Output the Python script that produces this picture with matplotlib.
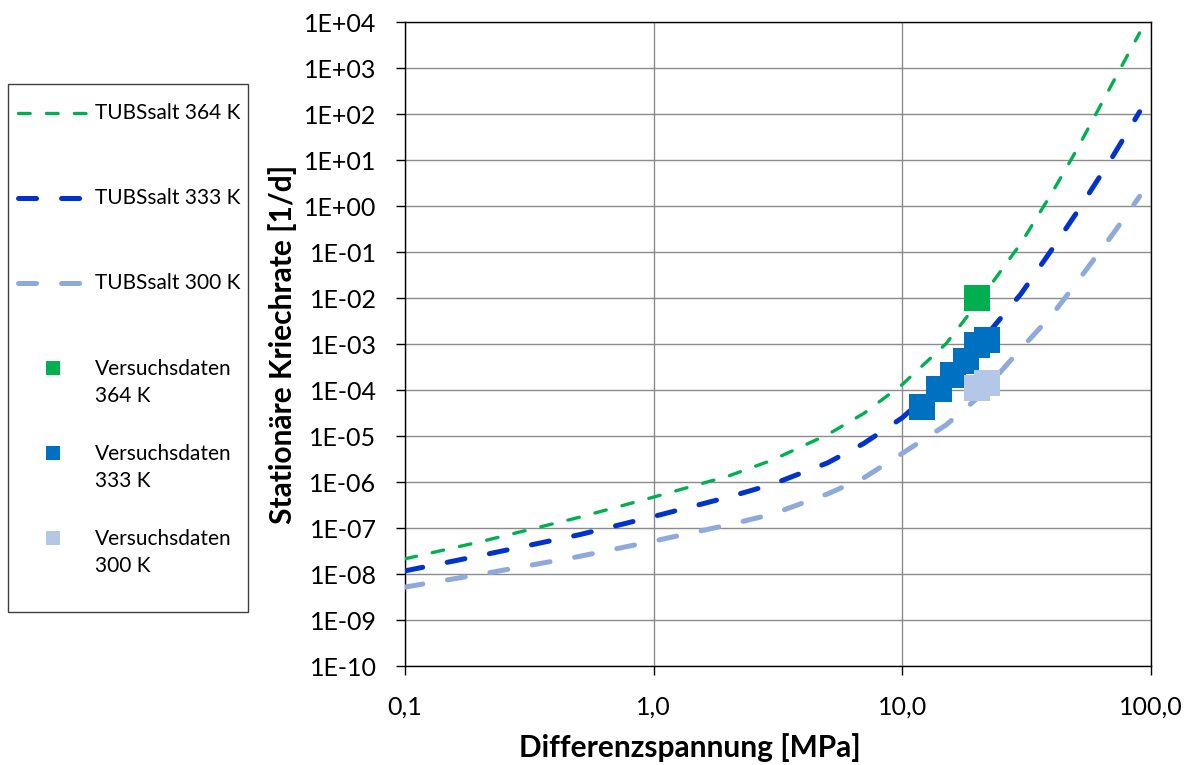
import numpy as np
import matplotlib
matplotlib.use("Agg")
import matplotlib.pyplot as plt
from matplotlib.lines import Line2D
from matplotlib.patches import Rectangle
from matplotlib.ticker import FixedLocator, FuncFormatter, NullLocator

plt.rcParams["font.family"] = ["Lato", "DejaVu Sans"]
plt.rcParams["lines.scale_dashes"] = False

# Model curves, x in MPa, y in 1/d
SIGMA = [0.1, 0.2, 0.5, 1, 2, 3, 5, 7, 10, 15, 20, 30, 40, 50, 70, 90]
RATE_364 = [2.14e-8, 5.0e-8, 1.7e-7, 4.7e-7, 1.35e-6, 3.0e-6, 1.07e-5, 3.1e-5, 1.32e-4,
            1.02e-3, 7.6e-3, 0.155, 1.95, 15.8, 468, 5800]
RATE_333 = [1.17e-8, 2.5e-8, 7.1e-8, 1.78e-7, 4.7e-7, 8.9e-7, 2.6e-6, 6.9e-6, 2.5e-5,
            1.78e-4, 8.9e-4, 1.23e-2, 0.115, 0.69, 11.7, 112]
RATE_300 = [5.2e-9, 9.8e-9, 2.4e-8, 5.2e-8, 1.17e-7, 2.0e-7, 5.5e-7, 1.23e-6, 4.2e-6,
            1.74e-5, 6.6e-5, 7.9e-4, 4.3e-3, 2.1e-2, 0.24, 1.62]

# Test data
TEST_364_X = [20]
TEST_364_Y = [1.0e-2]
TEST_333_X = [12, 14, 16, 18, 20, 22]
TEST_333_Y = [4.2e-5, 1.03e-4, 2.1e-4, 4.2e-4, 9.3e-4, 1.2e-3]
TEST_300_X = [20, 22]
TEST_300_Y = [1.1e-4, 1.4e-4]

X_TICKS = [0.1, 1, 10, 100]
X_TICK_LABELS = ["0,1", "1,0", "10,0", "100,0"]
Y_EXPONENTS = list(range(-10, 5))

GREEN = "#00B050"
BLUE = "#0033CC"
LIGHT = "#8EA9DB"
M_GREEN = "#00B050"
M_BLUE = "#0070C0"
M_LIGHT = "#B4C7E7"

W, H = 1193, 765
fig = plt.figure(figsize=(W / 100, H / 100), dpi=100)
ax = fig.add_axes([405 / W, 1 - 666 / H, (1151 - 405) / W, (666 - 22) / H])

dash_thin = (0, (8.4, 11.7))
dash_thick = (0, (13, 18))

ax.plot(SIGMA, RATE_364, color=GREEN, lw=2.4, ls=dash_thin, dash_capstyle="round", zorder=3)
ax.plot(SIGMA, RATE_333, color=BLUE, lw=3.6, ls=dash_thick, dash_capstyle="round", zorder=3)
ax.plot(SIGMA, RATE_300, color=LIGHT, lw=3.6, ls=dash_thick, dash_capstyle="round", zorder=3)

ax.plot(TEST_364_X, TEST_364_Y, ls="none", marker="s", ms=19, mew=0, color=M_GREEN, zorder=5)
ax.plot(TEST_333_X, TEST_333_Y, ls="none", marker="s", ms=19, mew=0, color=M_BLUE, zorder=5)
ax.plot(TEST_300_X, TEST_300_Y, ls="none", marker="s", ms=19, mew=0, color=M_LIGHT, zorder=6)

ax.set_xscale("log")
ax.set_yscale("log")
ax.set_xlim(0.1, 100)
ax.set_ylim(1e-10, 1e4)

ax.xaxis.set_major_locator(FixedLocator(X_TICKS))
ax.xaxis.set_major_formatter(FuncFormatter(
    lambda v, p: X_TICK_LABELS[int(np.argmin([abs(np.log10(t) - np.log10(v)) for t in X_TICKS]))]))
ax.xaxis.set_minor_locator(NullLocator())
ax.yaxis.set_major_locator(FixedLocator([10.0 ** e for e in Y_EXPONENTS]))
ax.yaxis.set_major_formatter(FuncFormatter(lambda v, p: f"1E{int(round(np.log10(v))):+03d}"))
ax.yaxis.set_minor_locator(NullLocator())

ax.grid(True, which="major", color="#8c8c8c", lw=1.0)
ax.set_axisbelow(True)
for s in ax.spines.values():
    s.set_color("black")
    s.set_linewidth(1.0)
ax.tick_params(axis="both", direction="out", length=6.5, width=1.0, color="black", labelsize=18)
ax.tick_params(axis="x", pad=15)
ax.tick_params(axis="y", pad=14)

ax.set_xlabel("Differenzspannung [MPa]", fontsize=21.5, fontweight="bold")
ax.xaxis.set_label_coords((690 - 405) / 746, (666 - 733) / 644)
ax.set_ylabel("Stationäre Kriechrate [1/d]", fontsize=21.5, fontweight="bold")
ax.yaxis.set_label_coords((297 - 405) / 746, 0.5)

# legend box on the left
def fx(px):
    return px / W

def fy(py):
    return 1 - py / H

fig.patches.append(Rectangle((fx(8), fy(612)), fx(248) - fx(8), fy(84) - fy(612),
                             transform=fig.transFigure, fill=False, ec="#404040", lw=1.0))

line_entries = [
    ("TUBSsalt 364 K", GREEN, 2.4, dash_thin, 113),
    ("TUBSsalt 333 K", BLUE, 3.6, dash_thick, 198),
    ("TUBSsalt 300 K", LIGHT, 3.6, dash_thick, 283),
]
for label, col, lw, ls, py in line_entries:
    fig.lines.append(Line2D([fx(18), fx(88)], [fy(py), fy(py)], transform=fig.transFigure,
                            color=col, lw=lw, ls=ls, dash_capstyle="round"))
    fig.text(fx(95), fy(py), label, fontsize=15, va="center", ha="left")

marker_entries = [
    ("Versuchsdaten\n364 K", M_GREEN, 368),
    ("Versuchsdaten\n333 K", M_BLUE, 453),
    ("Versuchsdaten\n300 K", M_LIGHT, 538),
]
for label, col, py in marker_entries:
    fig.lines.append(Line2D([fx(53)], [fy(py)], transform=fig.transFigure, ls="none",
                            marker="s", ms=10, mew=0, color=col))
    fig.text(fx(95), fy(py + 14.5), label, fontsize=15, va="center", ha="left", linespacing=1.45)

fig.savefig("out.png", dpi=100)
